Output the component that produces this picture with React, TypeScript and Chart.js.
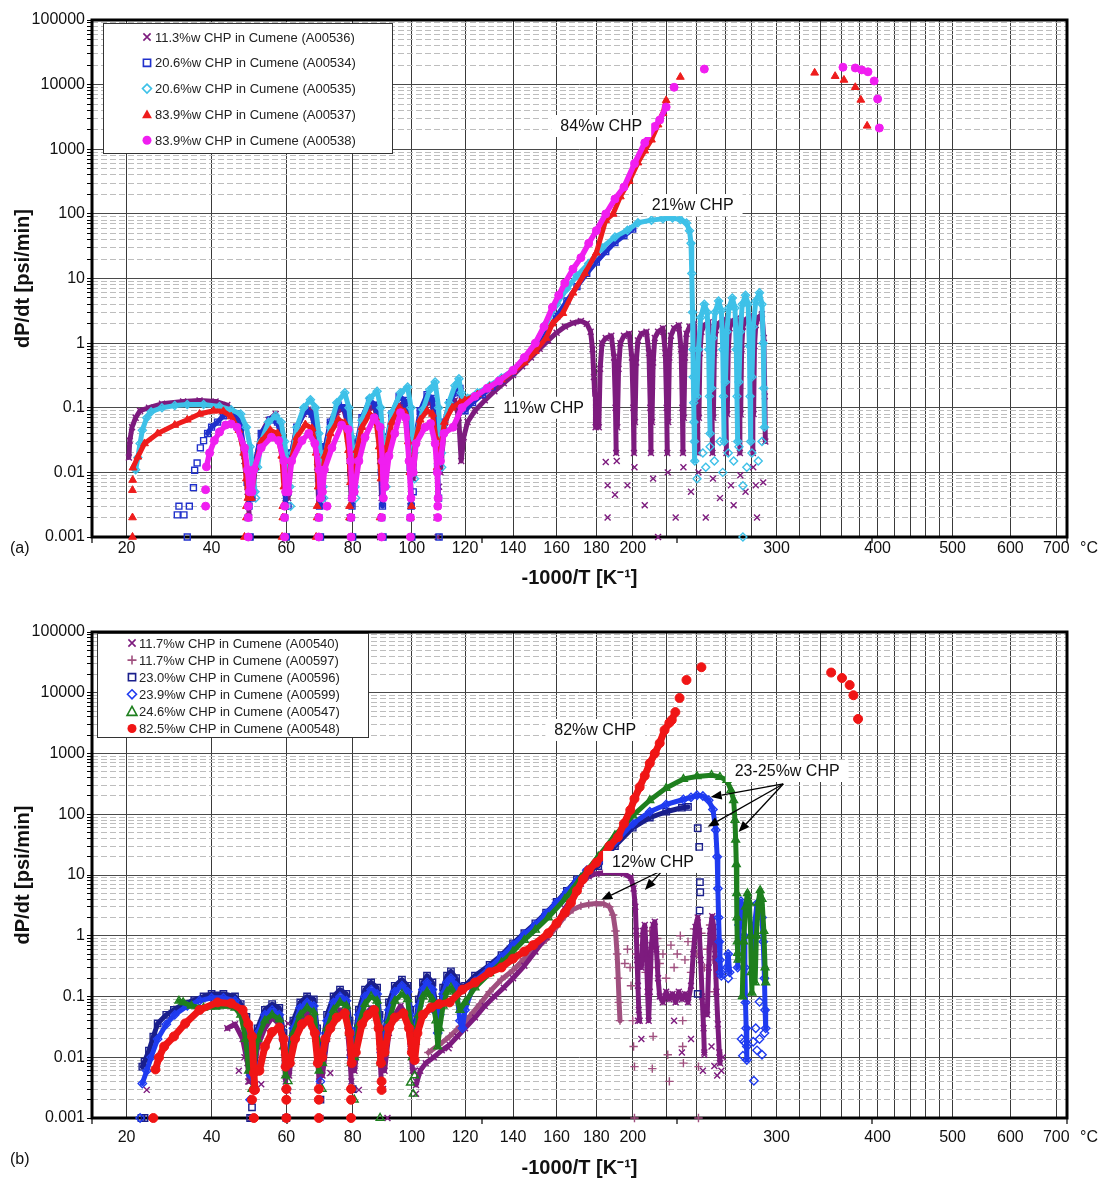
import { useEffect, useRef } from 'react';
import { Chart, registerables } from 'chart.js';

Chart.register(...registerables);

type Pt = [number, number | null];

const FONT = '"Liberation Sans", Arial, Helvetica, sans-serif';

// ---------- axis ticks ----------
const gridTempsC = [20, 40, 60, 80, 100, 120, 140, 160, 180, 200, 220, 240, 260, 280, 300, 320, 340, 360, 380, 400, 420, 440, 460, 480, 500, 600, 700];
const labeledTempsC = [20, 40, 60, 80, 100, 120, 140, 160, 180, 200, 300, 400, 500, 600, 700];
const invTMarks = [-3.5, -3, -2.5, -2, -1.5, -1];
const yDecades = [0.001, 0.01, 0.1, 1, 10, 100, 1000, 10000, 100000];
const yDecadeLabels = ['0.001', '0.01', '0.1', '1', '10', '100', '1000', '10000', '100000'];
const yMinorSteps = [2, 3, 4, 5, 6, 7, 8, 9];

// ---------- panel (a) data: [temperature °C, dP/dt psi/min] ----------
const ser536Band: Pt[] = [
  [20.5, 0.017], [20.7, 0.031], [21.2, 0.05], [22, 0.07], [23, 0.09], [25, 0.1], [28, 0.115], [33, 0.125], [37, 0.13], [41, 0.125], [44, 0.11], [46, 0.08], [47.5, 0.04], [48.5, 0.015], [49.3, 0.005], [49.8, 0.002], [50, null],
  [50.5, 0.004], [51.5, 0.015], [53, 0.04], [55, 0.065], [57, 0.08], [58.5, 0.05], [59.3, 0.015], [59.8, 0.004], [60, null],
  [60.5, 0.004], [61.5, 0.02], [63, 0.05], [65, 0.08], [67, 0.095], [68.3, 0.05], [69, 0.012], [69.5, 0.003], [70, null],
  [70.5, 0.005], [71.5, 0.025], [73, 0.055], [75, 0.085], [77, 0.1], [78.3, 0.06], [79, 0.015], [79.5, 0.004], [80, null],
  [80.5, 0.005], [81.5, 0.025], [83, 0.06], [85, 0.09], [87, 0.11], [88.3, 0.06], [89, 0.015], [89.5, 0.004], [90, null],
  [90.5, 0.006], [91.5, 0.03], [93, 0.07], [95, 0.1], [97, 0.12], [98.5, 0.07], [99.3, 0.015], [99.7, 0.004], [100, null],
  [100.5, 0.008], [101.5, 0.03], [103, 0.08], [105, 0.11], [107, 0.13], [108.5, 0.06], [109.2, 0.015], [109.6, 0.004], [110, null],
  [110.5, 0.01], [112, 0.05], [114, 0.1], [116, 0.13], [117.5, 0.07], [118.5, 0.015], [119.5, 0.035], [121, 0.06], [124, 0.09], [128, 0.13], [132, 0.18], [136, 0.24], [140, 0.32], [144, 0.44], [148, 0.6], [152, 0.82], [156, 1.1], [160, 1.45], [164, 1.8], [168, 2.05], [172, 2.2], [175, 2.0], [177, 1.5], [178, 0.8], [178.7, 0.3], [179.3, 0.12], [179.6, 0.05], [180, null],
  [181.3, 0.05], [182, 0.4], [183, 1.0], [185, 1.2], [188, 1.3], [189.5, 0.6], [190.3, 0.1], [190.7, 0.02], [191, null],
  [191.3, 0.05], [192, 0.4], [193, 1.0], [195, 1.3], [198, 1.4], [199.5, 0.6], [200.3, 0.1], [200.7, 0.02], [201, null],
  [201.3, 0.06], [202, 0.5], [203, 1.1], [205, 1.4], [208, 1.5], [209.5, 0.7], [210.3, 0.1], [210.7, 0.02], [211, null],
  [211.3, 0.06], [212, 0.5], [213, 1.2], [215, 1.5], [218, 1.7], [219.5, 0.7], [220.3, 0.1], [220.7, 0.02], [221, null],
  [221.3, 0.06], [222, 0.6], [223, 1.3], [225, 1.7], [228, 1.9], [229.5, 0.8], [230.3, 0.1], [230.7, 0.02], [231, null],
  [231.3, 0.07], [232, 0.6], [233, 1.4], [235, 1.8], [238, 2.0], [239.5, 0.8], [240.3, 0.1], [240.7, 0.02], [241, null],
  [241.3, 0.07], [242, 0.7], [243, 1.5], [245, 1.9], [248, 2.1], [249.5, 0.9], [250.3, 0.1], [250.7, 0.02], [251, null],
  [251.3, 0.07], [252, 0.7], [253, 1.6], [255, 2.0], [258, 2.3], [259.5, 0.9], [260.3, 0.1], [260.7, 0.02], [261, null],
  [261.3, 0.08], [262, 0.8], [263, 1.7], [265, 2.2], [268, 2.4], [269.5, 1.0], [270.3, 0.1], [270.7, 0.02], [271, null],
  [271.3, 0.08], [272, 0.8], [273, 1.8], [275, 2.3], [278, 2.6], [279.5, 1.0], [280.3, 0.1], [280.7, 0.02], [281, null],
  [281.3, 0.08], [282, 0.9], [283, 1.9], [285, 2.5], [288, 2.8], [289.5, 1.2], [290.3, 0.15], [290.7, 0.03],
];
const ser536Pts: Pt[] = [
  [50, 0.001], [60, 0.001], [69.5, 0.001], [79.5, 0.001], [89, 0.001], [100, 0.001], [109.5, 0.001], [109, 0.002], [109.5, 0.003], [110, 0.006], [89.5, 0.002], [79, 0.002], [99.5, 0.003],
  [186, 0.0063], [186, 0.002], [197, 0.0063], [190, 0.0045], [207, 0.0031], [215, 0.001], [226, 0.002], [246, 0.002], [264, 0.0063], [266, 0.0031], [284, 0.002], [283, 0.0063],
  [212, 0.008], [236, 0.005], [256, 0.004], [275, 0.005], [289, 0.007], [241, 0.01], [251, 0.008], [271, 0.009], [281, 0.012], [231, 0.012], [221, 0.01], [201, 0.012], [191, 0.015], [185, 0.0145],
];

const ser534Band: Pt[] = [
  [39, 0.04], [40, 0.05], [41.5, 0.06], [43, 0.075], [45, 0.085], [46.5, 0.08], [47.5, 0.05], [48.5, 0.02], [49.2, 0.007], [49.7, 0.003], [50, null],
  [50.5, 0.004], [51.5, 0.015], [53, 0.04], [55.5, 0.065], [57.5, 0.06], [58.8, 0.03], [59.5, 0.008], [59.8, 0.003], [60, null],
  [60.5, 0.005], [61.5, 0.02], [63, 0.05], [65.5, 0.09], [67.5, 0.08], [68.8, 0.035], [69.4, 0.008], [69.8, 0.003], [70, null],
  [70.5, 0.006], [71.5, 0.025], [73, 0.06], [75.5, 0.11], [77.5, 0.1], [78.8, 0.04], [79.4, 0.01], [79.8, 0.003], [80, null],
  [80.5, 0.007], [81.5, 0.03], [83, 0.07], [85.5, 0.13], [87.5, 0.11], [88.8, 0.04], [89.4, 0.01], [89.8, 0.003], [90, null],
  [90.5, 0.008], [91.5, 0.035], [93, 0.08], [95.5, 0.15], [97.5, 0.13], [98.8, 0.05], [99.4, 0.012], [99.8, 0.003], [100, null],
  [100.5, 0.01], [101.5, 0.04], [103, 0.09], [105.5, 0.16], [107.5, 0.14], [108.8, 0.05], [109.4, 0.012], [109.8, 0.004], [110, null],
  [110.5, 0.015], [112, 0.06], [114, 0.12], [116, 0.17], [118, 0.2], [119, 0.1], [120, 0.09], [123, 0.12], [127, 0.16], [131, 0.21], [135, 0.27], [140, 0.36], [145, 0.52], [150, 0.8], [155, 1.4], [160, 2.6], [165, 4.5], [170, 7.5], [175, 12], [180, 18], [185, 26], [190, 36], [195, 46], [200, 58],
];
const ser534Pts: Pt[] = [
  [31.6, 0.0022], [33.2, 0.0022], [32, 0.003], [34.5, 0.003], [34, 0.001], [35.5, 0.0058], [35.8, 0.0108], [36.4, 0.014], [37.2, 0.024], [38, 0.031],
  [50, 0.001], [60, 0.001], [70, 0.001], [80, 0.001], [90, 0.001], [100, 0.001], [110, 0.001], [49.5, 0.002], [59.5, 0.002], [69.5, 0.002], [79.5, 0.002], [89.5, 0.002], [99.5, 0.002], [60.5, 0.003], [70.5, 0.004], [80.5, 0.005], [100.5, 0.005],
];

const ser535Band: Pt[] = [
  [22, 0.011], [22.5, 0.017], [23, 0.028], [23.5, 0.045], [24.5, 0.07], [25.5, 0.087], [28, 0.1], [31, 0.108], [34, 0.112], [38, 0.112], [42, 0.105], [45, 0.093], [47.5, 0.08], [49, 0.05], [50, 0.025], [50.8, 0.01], [51.3, 0.005], [51.6, null],
  [52, 0.012], [53, 0.03], [55, 0.06], [57, 0.075], [58.5, 0.06], [59.5, 0.03], [60.3, 0.012], [61, 0.006], [61.4, null],
  [61.8, 0.02], [63, 0.05], [65, 0.1], [67, 0.133], [68.5, 0.1], [69.5, 0.04], [70.3, 0.012], [70.8, 0.006], [71.2, null],
  [71.6, 0.02], [73, 0.05], [75, 0.12], [77.5, 0.17], [78.8, 0.1], [79.7, 0.035], [80.3, 0.012], [80.8, 0.006], [81.2, null],
  [81.6, 0.025], [83, 0.064], [85.5, 0.14], [88, 0.18], [89.2, 0.1], [89.9, 0.035], [90.5, 0.015], [91, null],
  [91.5, 0.03], [93, 0.084], [96, 0.17], [98.5, 0.21], [99.7, 0.1], [100.3, 0.035], [100.8, 0.02], [101.2, null],
  [101.6, 0.04], [104, 0.093], [106.5, 0.19], [108.5, 0.25], [109.8, 0.1], [110.4, 0.035], [110.9, 0.02], [111.3, 0.04], [113.7, 0.12], [116, 0.22], [117.6, 0.28], [118.5, 0.17], [119.5, 0.12], [121, 0.14], [125, 0.17], [130, 0.22], [135, 0.29], [140, 0.38], [145, 0.55], [150, 1.0], [155, 2.0], [160, 4.0], [165, 7], [170, 11], [176, 17], [183, 30], [190, 44], [197, 56], [203, 73], [211, 80], [218, 84], [224, 86], [229, 82], [233, 72], [235, 55], [236, 35], [236.5, 12], [237, 3], [237.3, 0.8], [237.5, 0.3], [237.8, 0.12], [238, 0.06], [238.3, 0.03], [238.5, 0.015], [238.7, null],
  [240, 0.15], [241, 0.8], [242.5, 2.5], [245, 4.0], [247, 3.0], [248, 0.8], [248.5, 0.15], [249, 0.04], [249.3, null],
  [250, 0.2], [251, 1.2], [252.5, 3], [255, 4.5], [257, 3.2], [258, 0.8], [258.5, 0.15], [259, 0.03], [259.3, null],
  [260, 0.25], [261, 1.5], [262.5, 3.5], [265, 5], [267, 3.5], [268, 0.8], [268.5, 0.15], [269, 0.03], [269.3, null],
  [270, 0.25], [271, 1.5], [272.5, 4], [275, 5.5], [277, 4], [278, 0.9], [278.5, 0.15], [279, 0.03], [279.3, null],
  [280, 0.3], [281, 1.8], [283, 4.5], [286, 6], [288, 4], [289, 1], [289.5, 0.2], [290, 0.05],
];
const ser535Pts: Pt[] = [
  [51.5, 0.004], [61.2, 0.003], [71, 0.004], [81, 0.004], [91, 0.006], [101, 0.008], [111, 0.012],
  [246, 0.012], [249, 0.025], [252, 0.015], [256, 0.03], [258, 0.01], [262, 0.02], [266, 0.015], [270, 0.025], [273, 0.0062], [273, 0.001], [276, 0.012], [280, 0.02], [285, 0.015], [288, 0.03], [240, 0.008], [244, 0.02],
];

const ser537Band: Pt[] = [
  [21.4, 0.0118], [22.5, 0.0174], [24, 0.028], [27, 0.04], [31, 0.054], [34, 0.065], [37, 0.08], [40.5, 0.09], [43, 0.088], [45, 0.073], [47, 0.045], [48.3, 0.02], [49, 0.008], [49.4, 0.004], [49.7, null],
  [50.3, 0.004], [51.3, 0.012], [53, 0.03], [55.5, 0.045], [57.5, 0.04], [58.7, 0.018], [59.3, 0.006], [59.6, null],
  [60.3, 0.005], [61.3, 0.015], [63, 0.035], [65.5, 0.055], [67.5, 0.048], [68.7, 0.02], [69.3, 0.006], [69.6, null],
  [70.3, 0.006], [71.3, 0.018], [73, 0.04], [75.5, 0.065], [77.5, 0.058], [78.7, 0.022], [79.3, 0.007], [79.6, null],
  [80.3, 0.007], [81.3, 0.022], [83, 0.05], [85.5, 0.08], [87.5, 0.07], [88.7, 0.025], [89.3, 0.008], [89.6, null],
  [90.3, 0.008], [91.3, 0.025], [93, 0.06], [95.5, 0.1], [97.5, 0.085], [98.7, 0.03], [99.3, 0.01], [99.6, null],
  [100.3, 0.01], [101.3, 0.03], [103, 0.065], [105.5, 0.09], [107.5, 0.08], [108.7, 0.035], [109.3, 0.012], [109.6, null],
  [110.3, 0.02], [112, 0.06], [115, 0.1], [118, 0.12], [120, 0.13], [125, 0.16], [130, 0.21], [135, 0.27], [140, 0.36], [145, 0.5], [150, 0.75], [155, 1.2], [158, 2.0], [163, 2.9], [168, 6], [174, 12], [180, 25], [185, 80], [189, 100], [193, 185], [198, 320], [203, 620], [207, 950], [211, 1400], [215, 2400], [218, 3600], [220, 5700],
];
const ser537Pts: Pt[] = [
  [21.3, 0.001], [21.3, 0.002], [21.3, 0.0053], [21.35, 0.0076], [48.5, 0.001], [49, 0.002], [49, 0.003], [58.8, 0.001], [59, 0.002], [59, 0.003], [68.7, 0.001], [69, 0.002], [69, 0.003], [79, 0.002], [79, 0.003], [89, 0.002], [99.9, 0.003], [99.5, 0.002],
  [229, 13100], [334, 15200], [354, 13500], [363, 11800], [375, 9100], [381, 5800], [388, 2300],
];

const ser538Band: Pt[] = [
  [38.7, 0.0122], [39.5, 0.02], [40.7, 0.031], [42, 0.042], [43.6, 0.054], [45, 0.056], [46.5, 0.05], [48.5, 0.024], [49.3, 0.011], [49.8, 0.005], [50, null],
  [50.5, 0.005], [51, 0.011], [53, 0.024], [55.8, 0.035], [57.8, 0.031], [59.3, 0.015], [59.8, 0.005], [60, null],
  [60.5, 0.005], [61.5, 0.015], [64.5, 0.031], [66.5, 0.04], [68.3, 0.028], [69.6, 0.011], [70, 0.004], [70.2, null],
  [70.6, 0.005], [71.2, 0.011], [73.5, 0.024], [76.5, 0.054], [78.6, 0.046], [79.4, 0.015], [79.8, 0.004], [80.1, null],
  [80.5, 0.005], [82, 0.015], [84, 0.035], [87, 0.07], [89, 0.05], [89.8, 0.015], [90.1, 0.004], [90.3, null],
  [90.7, 0.006], [92, 0.018], [94, 0.04], [96, 0.084], [97.8, 0.07], [99, 0.015], [99.7, 0.004], [100, null],
  [100.5, 0.01], [101.5, 0.028], [104.8, 0.05], [106.8, 0.057], [108.5, 0.028], [109.3, 0.01], [109.6, 0.004], [109.9, null],
  [110.5, 0.015], [111.8, 0.04], [115.3, 0.05], [118.8, 0.1], [124, 0.15], [129, 0.2], [134, 0.26], [140, 0.38], [145, 0.6], [150, 1.0], [154, 1.8], [158, 3.6], [161, 5.5], [164, 8.5], [168, 14], [172, 21], [176, 35], [180, 55], [185, 100], [190, 170], [195, 260], [201, 600], [207, 1260], [213, 2250], [216, 2830], [220, 4500],
];
const ser538Pts: Pt[] = [
  [38.5, 0.003], [38.5, 0.0054], [49.5, 0.001], [49.5, 0.002], [49.5, 0.003], [59.5, 0.001], [59.5, 0.002], [59.5, 0.003], [69.5, 0.001], [69.5, 0.002], [72, 0.003], [79.5, 0.001], [79.5, 0.002], [89.5, 0.001], [89.5, 0.002], [99.5, 0.001], [99.5, 0.002], [109.5, 0.002], [109.5, 0.003],
  [225, 9100], [245, 17400], [362, 18600], [375, 18100], [382, 16900], [389, 15800], [396, 11400], [400, 6000], [402, 2130],
];

// ---------- panel (b) data ----------
const ser540Band: Pt[] = [
  [44, 0.03], [46, 0.035], [48, 0.02], [49.3, 0.008], [49.8, 0.004], [50.2, null],
  [50.8, 0.004], [52, 0.015], [54, 0.03], [56, 0.045], [58, 0.035], [59.3, 0.012], [59.8, 0.004], [60.2, null],
  [60.8, 0.005], [62, 0.02], [64, 0.04], [66, 0.055], [68, 0.04], [69, 0.012], [69.6, 0.004], [70, null],
  [70.6, 0.005], [72, 0.02], [74, 0.045], [76, 0.06], [78, 0.045], [79, 0.012], [79.6, 0.004], [80, null],
  [80.6, 0.006], [82, 0.025], [84, 0.05], [86, 0.065], [88, 0.05], [88.8, 0.015], [89.4, 0.004], [89.8, null],
  [90.5, 0.006], [92, 0.025], [94, 0.05], [96, 0.07], [98, 0.05], [99.5, 0.015], [100.3, 0.006], [100.7, null],
  [101.5, 0.0035], [103, 0.006], [105, 0.008], [108, 0.01], [111, 0.013], [114, 0.016], [117, 0.022], [120, 0.03], [124, 0.045], [128, 0.07], [132, 0.1], [136, 0.14], [140, 0.2], [145, 0.32], [150, 0.55], [155, 0.95], [160, 1.6], [164, 2.8], [168, 4.5], [172, 7.2], [176, 9.5], [180, 10.5], [185, 11], [190, 11], [195, 10.5], [199, 9], [200.5, 6], [201.5, 3], [202, 1.2], [202.5, 0.4], [203, 0.15], [203.5, 0.06], [204, 0.04], [204.5, null],
  [205, 0.3], [206, 1.2], [207, 1.5], [208, 0.5], [208.7, 0.12], [209.3, 0.04], [210, 0.12], [211, 0.7], [212, 1.5], [213, 1.7], [214, 0.6], [215, 0.2], [216, 0.1], [218, 0.08], [220, 0.12], [222, 0.09], [224, 0.11], [226, 0.08], [228, 0.12], [230, 0.09], [232, 0.11], [234, 0.08], [236, 0.15], [237.5, 0.5], [239, 1.4], [240.5, 2.0], [241.5, 1.2], [242.5, 0.4], [243.5, 0.1], [244.5, 0.03], [245, 0.012], [245.5, null],
  [247, 0.05], [248, 0.3], [249, 1.2], [250.5, 2.1], [251.5, 1.4], [252.5, 0.5], [253.5, 0.12], [254.5, 0.035], [255.5, 0.012], [256, 0.008],
];
const ser540Pts: Pt[] = [
  [24.5, 0.0029], [47, 0.006], [48.5, 0.01], [49.5, 0.004], [50.3, 0.001], [53, 0.0036], [60.5, 0.036], [60.5, 0.0028], [70, 0.001], [73, 0.0055], [80, 0.0029], [82, 0.0029], [91.5, 0.001], [90, 0.003], [101.5, 0.0025], [101.5, 0.004], [101, 0.006], [113.6, 0.014],
  [203, 0.04], [205, 0.02], [225, 0.04], [230, 0.012], [236, 0.02], [244, 0.006], [245, 0.011], [250, 0.015], [252, 0.0072], [254, 0.005], [258, 0.01], [257, 0.006],
];

const ser597Band: Pt[] = [
  [106, 0.012], [110, 0.016], [114, 0.022], [118, 0.032], [122, 0.048], [126, 0.075], [130, 0.12], [135, 0.19], [140, 0.27], [145, 0.42], [150, 0.6], [155, 0.86], [160, 1.4], [164, 2.1], [168, 2.7], [172, 3.1], [176, 3.3], [180, 3.4], [184, 3.35], [187, 3.0], [189, 2.2], [190.3, 1.2], [191.2, 0.5], [191.8, 0.2], [192.3, 0.08], [192.8, 0.04],
];
const ser597Pts: Pt[] = [
  [195.5, 0.35], [197, 0.6], [198.5, 0.3], [199, 0.15], [200, 0.04], [200.5, 0.015], [201, 0.007], [201, 0.001], [202, 0.5], [203, 0.96], [204.5, 0.4], [206, 0.7], [207.5, 0.25], [209, 0.5], [210, 1.2], [211, 0.3], [212, 0.022], [211.5, 0.0065], [213, 0.6], [214.5, 0.9], [216, 0.35], [218, 0.5], [220, 0.2], [221, 0.011], [222, 0.004], [223, 0.7], [225, 0.3], [227, 0.5], [229, 1.0], [230.5, 0.04], [230.5, 0.015], [231, 0.008], [232, 0.4], [234, 0.8], [236, 0.25], [238, 1.3], [240, 0.5], [241, 0.007], [241, 0.001], [243, 1.1], [245, 0.3], [247, 0.6], [249, 1.5], [251, 0.4], [252, 0.12], [254, 0.8],
];

const ser596Band: Pt[] = [
  [23.5, 0.007], [24, 0.0085], [25, 0.0128], [26, 0.0218], [27, 0.036], [29, 0.05], [30.8, 0.06], [33, 0.075], [35.7, 0.087], [38, 0.1], [40, 0.11], [43, 0.11], [46, 0.1], [47.5, 0.075], [49, 0.046], [49.7, 0.02], [50.2, 0.008], [50.5, null],
  [51, 0.01], [52, 0.03], [54, 0.06], [56, 0.075], [58, 0.065], [59.2, 0.025], [59.8, 0.008], [60.2, null],
  [60.8, 0.012], [62, 0.04], [64, 0.08], [66, 0.1], [68, 0.09], [69, 0.03], [69.6, 0.01], [70, null],
  [70.6, 0.015], [72, 0.05], [74, 0.1], [76, 0.13], [78, 0.11], [79, 0.04], [79.6, 0.012], [80, null],
  [80.6, 0.02], [82, 0.06], [84, 0.13], [86, 0.17], [88, 0.14], [88.8, 0.05], [89.4, 0.015], [89.8, null],
  [90.5, 0.025], [92, 0.08], [94, 0.15], [96.5, 0.19], [98.5, 0.15], [99.5, 0.06], [100.2, 0.02], [100.6, null],
  [101.2, 0.03], [102.5, 0.09], [104, 0.17], [105.5, 0.22], [107.5, 0.17], [108.8, 0.07], [109.5, 0.03], [110.2, 0.06], [111.5, 0.14], [113, 0.22], [114.5, 0.26], [116.5, 0.2], [118, 0.14], [120, 0.15], [124, 0.22], [130, 0.33], [135, 0.48], [140, 0.75], [145, 1.1], [150, 1.6], [155, 2.4], [160, 3.6], [165, 5.5], [170, 8.5], [175, 11], [181, 14], [190, 30], [200, 60], [210, 88], [220, 110], [230, 128], [234, 132],
];
const ser596Pts: Pt[] = [
  [23.3, 0.001], [24, 0.001], [50, 0.001], [50.5, 0.0015], [60, 0.001], [70, 0.002], [80, 0.003],
  [240.5, 59], [241.5, 29], [242, 7.6], [242.2, 5.2], [241.8, 2.6], [240.5, 0.11],
];

const ser599Band: Pt[] = [
  [23.5, 0.0037], [24.5, 0.006], [25.5, 0.01], [27, 0.02], [29, 0.035], [31, 0.05], [34, 0.07], [37, 0.085], [40, 0.095], [43, 0.095], [46, 0.085], [47.5, 0.06], [49, 0.03], [49.7, 0.012], [50.2, 0.005], [50.5, null],
  [51, 0.008], [52, 0.025], [54, 0.05], [56, 0.06], [58, 0.05], [59.2, 0.02], [59.8, 0.007], [60.2, null],
  [60.8, 0.01], [62, 0.03], [64, 0.065], [66, 0.08], [68, 0.07], [69, 0.025], [69.6, 0.008], [70, null],
  [70.6, 0.012], [72, 0.04], [74, 0.08], [76, 0.1], [78, 0.085], [79, 0.03], [79.6, 0.01], [80, null],
  [80.6, 0.015], [82, 0.05], [84, 0.1], [86, 0.13], [88, 0.11], [88.8, 0.04], [89.4, 0.012], [89.8, null],
  [90.5, 0.02], [92, 0.06], [94, 0.12], [96.5, 0.15], [98.5, 0.12], [99.5, 0.05], [100.2, 0.015], [100.6, null],
  [101.2, 0.025], [102.5, 0.07], [104, 0.13], [105.5, 0.17], [107.5, 0.13], [108.8, 0.055], [109.5, 0.025], [110.2, 0.05], [111.5, 0.11], [113, 0.17], [114.5, 0.2], [116.5, 0.15], [118, 0.04], [119, 0.03], [120, 0.06], [124, 0.18], [130, 0.3], [135, 0.45], [140, 0.7], [145, 1.05], [150, 1.5], [155, 2.3], [160, 3.5], [165, 5.3], [170, 8], [175, 12], [181, 16], [190, 35], [200, 70], [210, 110], [220, 145], [231, 175], [236, 190], [240, 205], [244, 200], [248, 170], [251, 120], [253, 55], [254, 20], [254.5, 6], [255, 2], [255.5, 0.8], [256, 0.4], [256.5, 0.25], [257, 0.22], [257.5, null],
  [261, 0.3], [262, 0.5], [263, 0.25], [263.5, null],
  [269, 0.3], [270, 1.5], [271.5, 3.7], [273, 3], [274, 1], [274.5, 0.3], [275, 0.08], [275.5, 0.03], [276, 0.009], [276.5, null],
  [281, 0.3], [282, 1.5], [284, 3.4], [286, 3.2], [288, 2], [289, 0.8], [290, 0.2], [290.5, 0.06], [291, 0.03],
];
const ser599Pts: Pt[] = [
  [23, 0.001], [50, 0.002], [60, 0.003], [70, 0.004], [262, 0.2], [272, 0.02], [273, 0.0106], [274, 0.018], [276, 0.015], [281, 0.018], [281.5, 0.0041], [283, 0.03], [284, 0.013], [286, 0.02], [288, 0.011], [290, 0.025], [286, 0.082],
];

const ser547Band: Pt[] = [
  [32, 0.085], [33, 0.08], [35, 0.07], [38, 0.065], [41, 0.068], [44, 0.07], [46, 0.065], [47.5, 0.05], [48.8, 0.02], [49.6, 0.006], [50, null],
  [50.8, 0.006], [52, 0.02], [54, 0.04], [56, 0.05], [58, 0.042], [59.2, 0.015], [59.8, 0.005], [60.2, null],
  [60.8, 0.008], [62, 0.025], [64, 0.05], [66, 0.065], [68, 0.055], [69, 0.02], [69.6, 0.006], [70, null],
  [70.6, 0.008], [72, 0.03], [74, 0.06], [76, 0.08], [78, 0.07], [79, 0.025], [79.6, 0.008], [80, null],
  [80.6, 0.01], [82, 0.035], [84, 0.075], [86, 0.1], [88, 0.085], [88.8, 0.03], [89.4, 0.008], [89.8, null],
  [90.5, 0.012], [92, 0.04], [94, 0.085], [96.5, 0.11], [98.5, 0.09], [99.5, 0.035], [100.2, 0.01], [100.6, null],
  [101.2, 0.018], [102.5, 0.05], [104, 0.1], [105.5, 0.12], [107.5, 0.09], [108.8, 0.04], [109.5, 0.015], [110.2, 0.03], [111.5, 0.07], [113, 0.12], [114.5, 0.14], [116.5, 0.1], [118, 0.06], [120, 0.08], [124, 0.14], [130, 0.24], [135, 0.36], [140, 0.55], [145, 0.85], [150, 1.25], [156, 2.0], [164, 4], [172, 9], [181, 20], [190, 45], [200, 95], [210, 170], [220, 270], [231, 380], [240, 420], [250, 440], [256, 410], [261, 365], [264, 250], [266, 170], [267, 80], [267.5, 38], [268, 15], [268.3, 5], [268.5, 2], [268.7, 0.8], [269, 0.52], [269.3, 0.4], [269.6, null],
  [272.5, 0.1], [273.5, 0.8], [275, 3], [276.5, 5], [278, 3.5], [279, 1], [279.5, 0.25], [280, 0.115], [280.4, null],
  [282.5, 0.17], [283.5, 1], [285, 3.5], [286.5, 5.6], [288, 4], [289.5, 1.2], [290.5, 0.3], [291, 0.17],
];
const ser547Pts: Pt[] = [
  [50.5, 0.003], [60.5, 0.004], [70.5, 0.003], [80.5, 0.002], [89, 0.001], [99.5, 0.0038], [100.5, 0.0025], [101, 0.005],
];

const ser548Band: Pt[] = [
  [26.5, 0.0063], [27.3, 0.0099], [28.5, 0.015], [30.8, 0.022], [33.5, 0.036], [37, 0.06], [41.5, 0.08], [45, 0.077], [48, 0.06], [49.5, 0.035], [50.5, 0.022], [51, 0.0055], [51.3, 0.0029], [51.6, null],
  [52.5, 0.006], [54, 0.015], [56, 0.026], [58, 0.031], [59.2, 0.02], [59.8, 0.007], [60.2, null],
  [61, 0.008], [62.5, 0.02], [64.5, 0.035], [66.5, 0.041], [68.3, 0.025], [69.2, 0.008], [69.7, null],
  [70.5, 0.01], [71.5, 0.02], [73, 0.03], [75, 0.045], [77.5, 0.053], [79, 0.025], [79.7, 0.008], [80.1, null],
  [81, 0.012], [83, 0.035], [85, 0.05], [87, 0.06], [88.5, 0.03], [89.3, 0.008], [89.7, null],
  [90.5, 0.012], [92, 0.03], [94, 0.045], [97, 0.053], [99, 0.03], [100, 0.012], [101, 0.009], [102, 0.025], [104, 0.05], [107, 0.066], [110, 0.075], [114, 0.08], [119, 0.13], [124, 0.17], [130, 0.25], [135, 0.3], [140, 0.42], [145, 0.55], [149, 0.7], [156, 1.1], [160, 1.6], [164, 2.4], [167, 3.5], [170, 5.5], [173, 8.5], [176, 12], [180, 16], [183.5, 21], [187, 30], [191.6, 42], [195, 70], [198.6, 117], [201, 180], [204, 280], [207, 430], [210, 690], [213, 1000], [216, 1480], [219, 2430], [222, 3200], [223.5, 3550], [225.8, 4800],
];
const ser548Pts: Pt[] = [
  [26, 0.001], [51, 0.001], [50.5, 0.002], [51, 0.0029], [60, 0.001], [60, 0.002], [60, 0.003], [69.5, 0.001], [69.5, 0.002], [69.5, 0.003], [79.5, 0.001], [79.5, 0.002], [79.5, 0.003], [89.5, 0.0029], [89.5, 0.004],
  [228.5, 8200], [233, 16200], [243, 26300], [350, 21500], [361, 17500], [369, 13400], [373, 9100], [378, 3700],
];

// ---------- series styling ----------
const seriesA = [
  { label: '11.3%w CHP in Cumene (A00536)', band: ser536Band, pts: ser536Pts, color: '#7D1B7E', style: 'crossRot', filled: false, r: 4.2, lw: 5, z: 4 },
  { label: '20.6%w CHP in Cumene (A00534)', band: ser534Band, pts: ser534Pts, color: '#2030CC', style: 'rect', filled: false, r: 4.2, lw: 5, z: 3 },
  { label: '20.6%w CHP in Cumene (A00535)', band: ser535Band, pts: ser535Pts, color: '#3EC1E8', style: 'rectRot', filled: false, r: 4, lw: 5, z: 2 },
  { label: '83.9%w CHP in Cumene (A00537)', band: ser537Band, pts: ser537Pts, color: '#EE1C1C', style: 'triangle', filled: true, r: 4.5, lw: 5, z: 1 },
  { label: '83.9%w CHP in Cumene (A00538)', band: ser538Band, pts: ser538Pts, color: '#F01EF0', style: 'circle', filled: true, r: 4, lw: 5.5, z: 0 },
];
const seriesB = [
  { label: '11.7%w CHP in Cumene (A00540)', band: ser540Band, pts: ser540Pts, color: '#7D1B7E', style: 'crossRot', filled: false, r: 4.2, lw: 5, z: 4 },
  { label: '11.7%w CHP in Cumene (A00597)', band: ser597Band, pts: ser597Pts, color: '#A0507F', style: 'cross', filled: false, r: 4.2, lw: 5, z: 5 },
  { label: '23.0%w CHP in Cumene (A00596)', band: ser596Band, pts: ser596Pts, color: '#1A1F8C', style: 'rect', filled: false, r: 4.5, lw: 5, z: 3 },
  { label: '23.9%w CHP in Cumene (A00599)', band: ser599Band, pts: ser599Pts, color: '#1F3BF0', style: 'rectRot', filled: false, r: 4.2, lw: 5, z: 2 },
  { label: '24.6%w CHP in Cumene (A00547)', band: ser547Band, pts: ser547Pts, color: '#1E7F1E', style: 'triangle', filled: false, r: 4.5, lw: 5, z: 1 },
  { label: '82.5%w CHP in Cumene (A00548)', band: ser548Band, pts: ser548Pts, color: '#F01515', style: 'circle', filled: true, r: 4.5, lw: 7, z: 0 },
];

const notesA = [
  { text: '84%w CHP', t: 182.6, v: 2290 },
  { text: '21%w CHP', t: 237.1, v: 137 },
  { text: '11%w CHP', t: 153.8, v: 0.1 },
];
const notesB = [
  { text: '82%w CHP', t: 179.4, v: 2440 },
  { text: '23-25%w CHP', t: 309.1, v: 515 },
  { text: '12%w CHP', t: 211.9, v: 16.4 },
];
const arrowsB = [
  { from: [305.7, 315], to: [249.4, 192] },
  { from: [305.7, 315], to: [247.3, 62] },
  { from: [305.7, 315], to: [269.7, 51] },
  { from: [218, 12.1], to: [182.6, 3.9] },
  { from: [218, 12.1], to: [207.1, 5.66] },
];

const toInvT = (c: number) => -1000 / (c + 273.15);

function drawMarker(ctx: CanvasRenderingContext2D, style: string, x: number, y: number, r: number, color: string, filled: boolean) {
  ctx.save();
  ctx.strokeStyle = color;
  ctx.fillStyle = color;
  ctx.lineWidth = 1.6;
  ctx.beginPath();
  if (style === 'crossRot') {
    const d = r * 0.8;
    ctx.moveTo(x - d, y - d); ctx.lineTo(x + d, y + d);
    ctx.moveTo(x + d, y - d); ctx.lineTo(x - d, y + d);
    ctx.stroke();
  } else if (style === 'cross') {
    ctx.moveTo(x - r, y); ctx.lineTo(x + r, y);
    ctx.moveTo(x, y - r); ctx.lineTo(x, y + r);
    ctx.stroke();
  } else if (style === 'rect') {
    const s = r * 0.8;
    ctx.rect(x - s, y - s, 2 * s, 2 * s);
    filled ? ctx.fill() : ctx.stroke();
  } else if (style === 'rectRot') {
    const s = r;
    ctx.moveTo(x, y - s); ctx.lineTo(x + s, y); ctx.lineTo(x, y + s); ctx.lineTo(x - s, y); ctx.closePath();
    filled ? ctx.fill() : ctx.stroke();
  } else if (style === 'triangle') {
    const s = r * 1.1;
    ctx.moveTo(x, y - s); ctx.lineTo(x + s, y + s * 0.8); ctx.lineTo(x - s, y + s * 0.8); ctx.closePath();
    filled ? ctx.fill() : ctx.stroke();
  } else {
    ctx.arc(x, y, r, 0, Math.PI * 2);
    filled ? ctx.fill() : ctx.stroke();
  }
  ctx.restore();
}

function drawArrow(ctx: CanvasRenderingContext2D, x1: number, y1: number, x2: number, y2: number) {
  const ang = Math.atan2(y2 - y1, x2 - x1);
  const hl = 11, hw = 4.5;
  ctx.save();
  ctx.strokeStyle = '#000';
  ctx.fillStyle = '#000';
  ctx.lineWidth = 1.3;
  ctx.beginPath();
  ctx.moveTo(x1, y1);
  ctx.lineTo(x2 - Math.cos(ang) * hl, y2 - Math.sin(ang) * hl);
  ctx.stroke();
  ctx.beginPath();
  ctx.moveTo(x2, y2);
  ctx.lineTo(x2 - Math.cos(ang) * hl - Math.sin(ang) * hw, y2 - Math.sin(ang) * hl + Math.cos(ang) * hw);
  ctx.lineTo(x2 - Math.cos(ang) * hl + Math.sin(ang) * hw, y2 - Math.sin(ang) * hl - Math.cos(ang) * hw);
  ctx.closePath();
  ctx.fill();
  ctx.restore();
}

interface PanelDef {
  id: string;
  series: any[];
  notes: { text: string; t: number; v: number }[];
  arrows: { from: number[]; to: number[] }[];
  padTop: number;
  xLabelPad: number;
  xTitlePad: number;
  legend: { x: number; y: number; w: number; h: number; row0: number; step: number; mx: number; tx: number };
  tag: string;
  tagY: number;
  unitY: number;
}

function buildConfig(p: PanelDef): any {
  const datasets: any[] = [];
  p.series.forEach((s) => {
    const common = {
      pointStyle: s.style,
      pointRadius: s.r,
      pointBorderColor: s.color,
      pointBackgroundColor: s.filled ? s.color : 'rgba(0,0,0,0)',
      pointBorderWidth: s.filled ? 1 : 1.4,
      borderColor: s.color,
      backgroundColor: s.color,
      clip: false,
      order: s.z,
    };
    datasets.push({ ...common, label: s.label, data: s.band.map(([t, v]: Pt) => ({ x: toInvT(t), y: v })), showLine: true, borderWidth: s.lw, spanGaps: false, borderJoinStyle: 'round', borderCapStyle: 'round' });
    datasets.push({ ...common, label: s.label + ' (sparse)', data: s.pts.map(([t, v]: Pt) => ({ x: toInvT(t), y: v })), showLine: false });
  });

  const decor = {
    id: 'decor_' + p.id,
    beforeDatasetsDraw(chart: any) {
      const { ctx, chartArea: a } = chart;
      const xs = chart.scales.x;
      ctx.save();
      ctx.strokeStyle = '#000';
      ctx.lineWidth = 3;
      ctx.strokeRect(a.left, a.top, a.right - a.left, a.bottom - a.top);
      ctx.lineWidth = 1.2;
      invTMarks.forEach((u) => {
        const px = xs.getPixelForValue(u);
        ctx.beginPath();
        ctx.moveTo(px, a.bottom);
        ctx.lineTo(px, a.bottom + 6);
        ctx.stroke();
      });
      ctx.restore();
    },
    afterDatasetsDraw(chart: any) {
      const { ctx } = chart;
      const xs = chart.scales.x;
      const ys = chart.scales.y;
      ctx.save();
      p.arrows.forEach((ar) => {
        drawArrow(ctx, xs.getPixelForValue(toInvT(ar.from[0])), ys.getPixelForValue(ar.from[1]), xs.getPixelForValue(toInvT(ar.to[0])), ys.getPixelForValue(ar.to[1]));
      });
      ctx.font = `16px ${FONT}`;
      ctx.textAlign = 'center';
      ctx.textBaseline = 'middle';
      p.notes.forEach((n) => {
        const x = xs.getPixelForValue(toInvT(n.t));
        const y = ys.getPixelForValue(n.v);
        const w = ctx.measureText(n.text).width;
        ctx.fillStyle = '#fff';
        ctx.fillRect(x - w / 2 - 9, y - 11, w + 18, 22);
        ctx.fillStyle = '#111';
        ctx.fillText(n.text, x, y + 1);
      });
      const L = p.legend;
      ctx.fillStyle = '#fff';
      ctx.fillRect(L.x, L.y, L.w, L.h);
      ctx.strokeStyle = '#333';
      ctx.lineWidth = 1;
      ctx.strokeRect(L.x + 0.5, L.y + 0.5, L.w, L.h);
      ctx.font = `13px ${FONT}`;
      ctx.textAlign = 'left';
      p.series.forEach((s, i) => {
        const yy = L.row0 + i * L.step;
        drawMarker(ctx, s.style, L.mx, yy, 4.5, s.color, s.filled);
        ctx.fillStyle = '#222';
        ctx.fillText(s.label, L.tx, yy + 1);
      });
      ctx.font = `16px ${FONT}`;
      ctx.fillStyle = '#111';
      ctx.textAlign = 'left';
      ctx.fillText(p.tag, 10, p.tagY);
      ctx.fillText('°C', 1080, p.unitY);
      ctx.restore();
    },
  };

  return {
    type: 'scatter',
    data: { datasets },
    plugins: [decor],
    options: {
      responsive: false,
      animation: false,
      devicePixelRatio: 1,
      events: [],
      layout: { padding: { top: p.padTop, right: 35, bottom: 0, left: 0 } },
      plugins: { legend: { display: false }, tooltip: { enabled: false } },
      scales: {
        x: {
          type: 'linear',
          min: -3.5,
          max: -1.0,
          afterBuildTicks: (sc: any) => {
            sc.ticks = gridTempsC.map((t) => ({ value: toInvT(t) }));
          },
          afterFit: (sc: any) => {
            sc.height = 63;
          },
          ticks: {
            autoSkip: false,
            maxRotation: 0,
            minRotation: 0,
            padding: p.xLabelPad,
            color: '#111',
            font: { family: FONT, size: 16 },
            callback: (_v: any, i: number) => (labeledTempsC.includes(gridTempsC[i]) ? String(gridTempsC[i]) : ''),
          },
          grid: { color: '#3a3a3a', lineWidth: 1, drawTicks: false },
          border: { display: false },
          title: {
            display: true,
            text: '-1000/T [K⁻¹]',
            color: '#111',
            font: { family: FONT, size: 20, weight: 'bold' },
            padding: { top: 0, bottom: p.xTitlePad },
          },
        },
        y: {
          type: 'logarithmic',
          min: 0.001,
          max: 100000,
          afterBuildTicks: (sc: any) => {
            const ticks: any[] = [];
            yDecades.forEach((d, i) => {
              ticks.push({ value: d, major: true });
              if (i < yDecades.length - 1) yMinorSteps.forEach((m) => ticks.push({ value: d * m, major: false }));
            });
            sc.ticks = ticks;
          },
          afterFit: (sc: any) => {
            sc.width = 92;
          },
          ticks: {
            autoSkip: false,
            padding: 2,
            color: '#111',
            font: { family: FONT, size: 16 },
            callback: (_v: any, i: number, ticks: any[]) => {
              const k = yDecades.indexOf(ticks[i].value);
              return ticks[i].major && k >= 0 ? yDecadeLabels[k] : '';
            },
          },
          grid: {
            color: (c: any) => (c.tick && c.tick.major ? '#4a4a4a' : '#bdbdbd'),
            lineWidth: 1,
            tickLength: 5,
            tickColor: '#000',
          },
          border: { display: false, dash: (c: any) => (c.tick && !c.tick.major ? [6, 3] : []) },
          title: {
            display: true,
            text: 'dP/dt [psi/min]',
            color: '#111',
            font: { family: FONT, size: 20, weight: 'bold' },
            padding: { top: 11, bottom: 0 },
          },
        },
      },
    },
  };
}

const panelA: PanelDef = {
  id: 'a',
  series: seriesA,
  notes: notesA,
  arrows: [],
  padTop: 20,
  xLabelPad: 2,
  xTitlePad: 10,
  legend: { x: 103, y: 23, w: 289, h: 130, row0: 37, step: 25.8, mx: 147, tx: 155 },
  tag: '(a)',
  tagY: 549,
  unitY: 549,
};
const panelB: PanelDef = {
  id: 'b',
  series: seriesB,
  notes: notesB,
  arrows: arrowsB,
  padTop: 32,
  xLabelPad: 10,
  xTitlePad: 1,
  legend: { x: 97, y: 33, w: 271, h: 104, row0: 43, step: 17.1, mx: 132, tx: 139 },
  tag: '(b)',
  tagY: 560,
  unitY: 538,
};

function ChartPanel({ def, height, top }: { def: PanelDef; height: number; top: number }) {
  const ref = useRef<HTMLCanvasElement | null>(null);
  useEffect(() => {
    if (!ref.current) return;
    const chart = new Chart(ref.current, buildConfig(def));
    return () => chart.destroy();
  }, [def]);
  return <canvas ref={ref} width={1102} height={height} style={{ position: 'absolute', left: 0, top, display: 'block' }} />;
}

export default function App() {
  return (
    <div style={{ position: 'absolute', left: 0, top: 0, width: 1102, height: 1181, background: '#fff', overflow: 'hidden' }}>
      <ChartPanel def={panelA} height={600} top={0} />
      <ChartPanel def={panelB} height={581} top={600} />
    </div>
  );
}
